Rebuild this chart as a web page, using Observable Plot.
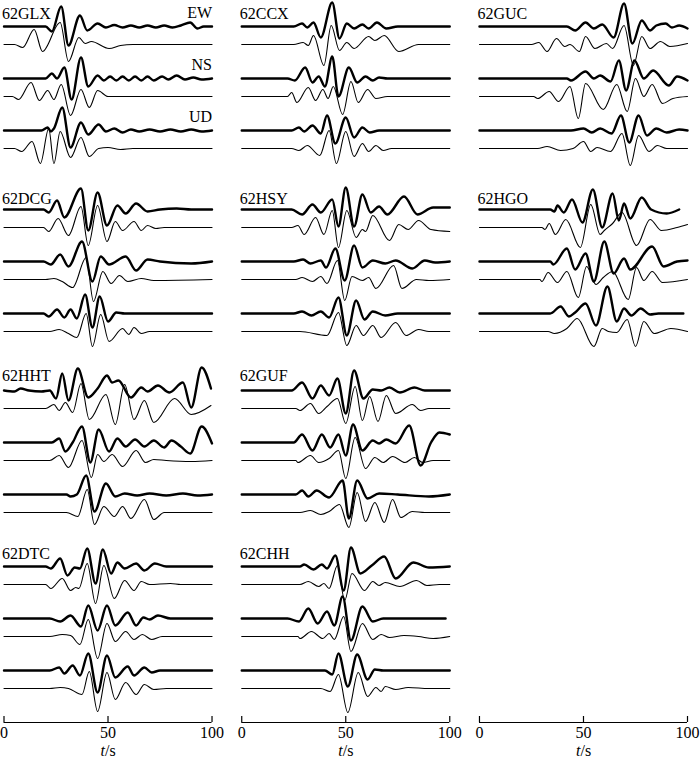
<!DOCTYPE html>
<html><head><meta charset="utf-8">
<script src="https://cdn.jsdelivr.net/npm/d3@7"></script>
<script src="https://cdn.jsdelivr.net/npm/@observablehq/plot@0.6"></script>
<style>html,body{margin:0;padding:0;background:#fff}</style>
</head><body><div id="chart"></div>
<script>
// ---- categories ----
const stations = ["62GLX","62CCX","62GUC","62DCG","62HSY","62HGO","62HHT","62GUF","62DTC","62CHH"];
const stationCol = [0,1,2,0,1,2,0,1,0,1];
const stationRow = [0,0,0,1,1,1,2,2,3,3];
const components = ["EW","NS","UD"];
const tickValues = [0,50,100];

// ---- waveforms: flat pairs [t (s), amplitude], obs = thick, syn = thin ----
const GLX_EW_obs=[0,0,20,0,23,-5,27.5,20,31,-19,36.5,11,40,-4,45,3,49,-1,53,1.5,57,-1,61,1,65,-1,69,1,73,-1,77,1,81,-1,85,1,89.5,4,93,-2,96,0,100,0];
const GLX_EW_syn=[0,0,5,0,9,-3,14.5,15,18.5,-7,27,22,31,-17,36,7,39,1,42,3,50.5,-4,56,-1,62,0,100,0];
const GLX_NS_obs=[0,0,20,0,23,5,25.5,0,29,11,32.5,-21,37,21,40.5,-8,45,3,48,-2,51,2,54,-2,57,2,60,-2,63,2,66,-2,69,2,72,-2,76,2,79,-1,83,3,87,-1,91,1,95,-1,100,0];
const GLX_NS_syn=[0,0,4,0,7,-3,13,14,17,-4,21,6,24,-3,27.5,12,32,-19,37,7,41,-11,45,6,50,0,100,0];
const GLX_UD_obs=[0,0,18,0,21,3,22.5,-1,24,2,28,23,32,-17,37,8,40.5,-4,45.5,6,49,-1,53,2,57,-2,61,1,65,-1,70,1,75,-1,80,1,85,-1,90,1,95,-1,100,0];
const GLX_UD_syn=[0,0,5,0,8.5,-3,13.5,7,17.5,-15,21.5,20,24,-15,27,17,32,-9,37,11,41,-8,45.5,0,50,1,56,-1,62,0,100,0];

const DCG_EW_obs=[0,0,19,0,21.5,-3,25.5,9,29,-8,37,21,40.5,-21,45,17,49.5,-16,54.5,4,58.5,-4,63.5,6,69,-2,75,0,83,1,90,0,100,0];
const DCG_EW_syn=[0,0,19,0,21.5,-4,26,9,31,-8,37,21,40.5,-18,45,22,49.5,-14,53.5,6,57,-3,62.5,6,66,-3,69,2,73,-1,77,0,100,0];
const DCG_NS_obs=[0,0,19,0,22.5,-3,27,7,31,-5,37.5,20,42.5,-20,46.5,5,50.5,-3,58.5,5,63.5,-9,69,2,75,0,90,-2,100,0];
const DCG_NS_syn=[0,0,20,0,24,1,28,-2,33,-8,39.5,22,43,-22,47.5,8,51.5,-4,55.5,4,59.5,-2,66,1,72,-1,100,0];
const DCG_UD_obs=[0,0,19,0,21.5,-3,25.5,4,29,-4,32,4,35,-5,39,19,42.5,-14,46,17,50,-8,54,1,58,0,100,0];
const DCG_UD_syn=[0,0,22,0,26.5,2,31,-2,35,-6,39.5,18,42.5,-15,46.5,17,50.5,-10,57,3,60,-3,62.5,4,66,-2,70,0,100,0];

const HHT_EW_obs=[0,0,5,-1,8,2,12,0,18,-1,22,0,25,-8,28,17,31,-10,35.5,22,40.5,-7,45,2,49.5,15,52,8,55,10,61,-7,66,3,69,-1,74,5,79.5,-2,86,8,90,-17,95,23,99.5,2];
const HHT_EW_syn=[0,0,20,0,24,4,26.5,-2,29.5,6,33,-4,37,25,41,-11,49,14,53.5,-16,58,24,62.5,-11,67.5,8,72,-14,82,10,90,-6,99.5,3];
const HHT_NS_obs=[0,0,23,0,26.5,4,29.5,-9,33,0,37.5,16,41.5,-20,45.5,13,50.5,-9,54.5,4,58.5,-4,63,3,67.5,-4,72,2,77,-5,80.5,2,85,-4,89.5,-11,95,16,100,-1];
const HHT_NS_syn=[0,0,22,0,26.5,5,31,-7,37.5,20,42,-17,45,6,48,-1,52,6,57,-6,63.5,10,68,-2,72,1,78,0,90,-1,100,0];
const HHT_UD_obs=[0,0,30,0,32,-2,35,0,39.5,19,43.5,-17,49,11,53.5,-2,58,1,64,-1,70,1,78,-1,86,1,93,-1,100,0];
const HHT_UD_syn=[0,0,30,0,35.5,-4,40,23,43.5,-12,48,6,53,-4,57,6,61,-6,67.5,13,72,-7,77,0,100,0];

const DTC_EW_obs=[0,0,20,0,22.5,-2,27,8,30.5,-9,34,-1,36.5,-2,40,18,44,-17,47.5,17,51.5,-7,54.5,4,58,-2,63.5,3,67.5,-4,72.5,3,78,0,100,0];
const DTC_EW_syn=[0,0,20,0,22.5,-4,28,6,32,-6,34.5,-3,36,-4,40,21,44,-19,48,19,53,-14,58,4,62.5,-6,66,3,70,0,80,1,85,0,100,0];
const DTC_NS_obs=[0,0,22,0,27,-3,32,3,37,-8,40.5,13,45,-12,49.5,13,53.5,-7,59.5,6,63.5,-7,67,1,70,-1,74,3,80,0,100,0];
const DTC_NS_syn=[0,0,22,0,28,2,32,1,36.5,-8,40.5,17,45,-22,49.5,13,53.5,-5,58.5,5,62.5,-3,66.5,2,71,-3,76,0,90,0,100,0];
const DTC_UD_obs=[0,0,22,0,26.5,3,29,-3,33,5,36.5,-5,40.5,17,45,-22,49.5,15,53.5,-7,59.5,4,62.5,-5,67.5,3,71,-2,75,0,100,0];
const DTC_UD_syn=[0,0,22,0,27,1,31,0,37.5,-6,41,17,45,-23,49.5,16,53.5,-11,58.5,6,63.5,-6,67.5,4,72,-1,78,0,100,0];

const CCX_EW_obs=[0,0,25,0,29,3,31.5,-1,34.5,4,38,-11,43.5,24,47,-12,50.5,3,54,-2,58,2,61,-2,65,4,69.5,-2,75,0,100,0];
const CCX_EW_syn=[0,0,25,0,29.5,2,32,-1,34.5,9,39.5,-21,43,19,47,-6,50.5,2,54,-4,61,8,64,4,68.5,9,75.5,-7,85,0,100,0];
const CCX_NS_obs=[0,0,22,0,25.5,-2,30.5,11,34,-4,37,2,40,-8,43.5,22,46.5,-18,51.5,11,55.5,-4,59.5,2,63,-2,66,1,70,0,100,0];
const CCX_NS_syn=[0,0,22,0,24,4,26.5,-6,32,9,35.5,-4,39,7,41.5,-2,44,10,48.5,-18,52.5,15,56,-6,60.5,7,64.5,-2,70,0,100,0];
const CCX_UD_obs=[0,0,24,0,27.5,3,30,-1,34,5,38,-3,41,15,45,-13,50,13,54,-7,58,3,61.5,-2,66,0,100,0];
const CCX_UD_syn=[0,0,24,0,27.5,-2,31.5,3,37.5,-7,42,18,45.5,-15,50,17,54,-8,58,5,61,-3,64.5,3,68,-2,72,0,100,0];

const HSY_EW_obs=[0,0,24,0,29,-5,34,5,38,-3,43.5,10,46.5,-17,50,22,54,-17,58,15,62,-3,66,3,70,-5,78,13,84.5,-5,92,2,100,2];
const HSY_EW_syn=[0,0,24,0,27,2,30,-7,35.5,10,39.5,-7,43.5,17,46.5,-20,50.5,17,55,-10,58,-2,59.5,-4,63,12,71,-13,75.5,3,80,-2,85,7,91,-2,100,-4];
const HSY_NS_obs=[0,0,25,0,29.5,2,33,-2,38,1,40.5,-6,45,13,49.5,-19,54,16,58,-6,63,1,69,-2,74,1,82,-7,88,1,93,-1,100,0];
const HSY_NS_syn=[0,0,26,0,29,2,34,-2,38,3,41,-4,46,19,49.5,-21,53,3,58,-1,61,2,64.5,-9,73,14,77,-9,84,0,90,-1,100,0];
const HSY_UD_obs=[0,0,25,0,29,2,33.5,-2,38,2,42,-4,46.5,16,50.5,-22,55,13,59,-6,63,2,69,-2,75,0,100,0];
const HSY_UD_syn=[0,0,28,0,41,-4,46.5,19,50.5,-14,55,6,58.5,-4,63,6,67,-6,74,9,79,-4,85,2,90,0,100,0];

const GUF_EW_obs=[0,0,24,0,29,8,34,-8,38,5,42,-5,46,12,50,-23,54,20,58.5,-8,63,1,67,0,71,3,76,-2,83,3,88,0,100,0];
const GUF_EW_syn=[0,0,26,0,28,-2,33,5,37,-5,41,2,46,10,50,-15,54.5,22,58,-12,61.5,12,65.5,-13,69.5,13,74,-5,82,4,86,-2,90,0,100,0];
const GUF_NS_obs=[0,0,25,0,29,8,34,-8,38.5,8,42.5,-5,46.5,8,50,-13,53.5,18,58,-8,63,2,66,-1,69.5,3,74,-1,80.5,17,86,-23,91,0,95,10,100,8];
const GUF_NS_syn=[0,0,26,0,27,-2,33,5,37,-2,42,2,46.5,10,50,-18,54.5,23,59.5,-8,64,3,68,-2,72.5,4,78.5,-2,83,3,87,-2,92,0,100,0];
const GUF_UD_obs=[0,0,26,0,29,4,32,-2,36,4,42,-3,48.5,14,51.5,-24,55.5,14,60.5,-4,66,1,75,0,90,-2,100,0];
const GUF_UD_syn=[0,0,28,0,33,2,38,-2,42,1,47,8,51.5,-15,55.5,20,59.5,-9,64,10,68.5,-10,72.5,13,76.5,-5,82,1,88,0,100,0];

const CHH_EW_obs=[0,0,28,0,30,2,34.5,-3,38.5,2,41,-2,45,11,49,-24,52.5,19,57,-7,62.5,1,68.5,10,74,-12,82.5,4,90,-1,100,0];
const CHH_EW_syn=[0,0,28,0,32,3,37,-2,39.5,1,42,-4,46,19,49.5,-16,53,11,59,-6,63,3,66,-1,69,2,76,-2,84,4,89,-1,95,0,100,0];
const CHH_NS_obs=[0,0,22,0,27.5,-3,32,10,36.5,-5,41,7,44.5,-7,48.5,22,52.5,-22,58,12,63,-3,68,0,98,0];
const CHH_NS_syn=[0,0,27,0,28,-2,33.5,5,39,-2,42,3,44.5,-3,49,20,52.5,-15,58,13,63,-3,67,2,71,-1,78,1,85,0,92,-2,100,0];
const CHH_UD_obs=[0,0,40,0,43.5,-4,46.5,17,51,-16,55.5,16,60.5,-9,64,1,68,0,100,0];
const CHH_UD_syn=[0,0,38,0,42.5,-3,46.5,14,51,-24,56,16,60.5,-8,64.5,1,67,-3,69,2,74,-1,80,1,90,0,100,0];

const GUC_EW_obs=[0,0,42,0,46,-4,51,4,55,-2,59,2,64.5,-11,69.5,23,73.5,-17,78,6,82,-4,85,1,89.5,3,92.5,-1,96,1,100,-2];
const GUC_EW_syn=[0,0,25,0,28.5,2,32.5,-7,37,6,41,-2,43.5,0,48,-7,51,8,55.5,-4,61,1,64,-4,69.5,19,74,-21,78,8,82,-4,87,3,91.5,-2,100,1];
const GUC_NS_obs=[0,0,42,0,44,-2,51,7,55,0,58,3,63,-3,67,18,70.5,-12,74.5,18,79,0,83.5,8,91,-7,95,2,100,-2];
const GUC_NS_syn=[0,0,26,0,28,-2,33.5,5,38,-5,43.5,10,47.5,-22,51,13,59.5,-13,66,12,71,-15,75,18,79,0,83,12,88,-7,93,-2,100,0];
const GUC_UD_obs=[0,0,44,0,50,2,54,-2,58,2,63.5,-3,68,15,72,-12,76.5,15,80.5,-5,85,2,90,-2,96,1,100,0];
const GUC_UD_syn=[0,0,28,0,32.5,2,39,-2,45,0,50,7,53.5,-3,56.5,1,63,-3,68.5,15,72.5,-17,76.5,13,81.5,-3,85.5,3,90,0,100,0];

const HGO_EW_obs=[0,0,34,0,36,-2,37.5,4,40.5,-3,44.5,10,49.5,-13,54.5,20,59,-18,64,16,67,-11,69.5,6,72.5,-9,78,12,82.5,0,90,-4,96,0];
const HGO_EW_syn=[0,0,30,0,31.5,-2,33.5,4,36.5,-7,41.5,8,48.5,-20,53.5,23,58,-7,60,-3,64,4,68.5,15,75.5,-18,82,8,87.5,-3,95,0,100,3];
const HGO_NS_obs=[0,0,34,0,35.5,-3,42,13,46,-8,51,8,55,-20,60,20,64.5,-12,69.5,3,72.5,-8,83,15,88.5,-5,95,0,100,1];
const HGO_NS_syn=[0,0,29,0,30,-2,33,7,37.5,-3,42,8,47.5,-18,51.5,13,56,-5,59.5,2,64,8,71.5,-20,75.5,12,79,-1,83,8,88,-3,100,0];
const HGO_UD_obs=[0,0,34,0,39,7,43,-3,46,1,51,10,56,-12,61.5,27,66,-8,69.5,5,73,-2,77.5,5,82,-1,86,0,98,0];
const HGO_UD_syn=[0,0,33,0,36,-2,42,3,47,13,55,-15,59,3,62,0,66,-1,71,12,75,-15,79,10,84,-2,92,3,100,0];

// table built from the named arrays
const traceSets = {
  "62GLX":[[GLX_EW_obs,GLX_EW_syn],[GLX_NS_obs,GLX_NS_syn],[GLX_UD_obs,GLX_UD_syn]],
  "62CCX":[[CCX_EW_obs,CCX_EW_syn],[CCX_NS_obs,CCX_NS_syn],[CCX_UD_obs,CCX_UD_syn]],
  "62GUC":[[GUC_EW_obs,GUC_EW_syn],[GUC_NS_obs,GUC_NS_syn],[GUC_UD_obs,GUC_UD_syn]],
  "62DCG":[[DCG_EW_obs,DCG_EW_syn],[DCG_NS_obs,DCG_NS_syn],[DCG_UD_obs,DCG_UD_syn]],
  "62HSY":[[HSY_EW_obs,HSY_EW_syn],[HSY_NS_obs,HSY_NS_syn],[HSY_UD_obs,HSY_UD_syn]],
  "62HGO":[[HGO_EW_obs,HGO_EW_syn],[HGO_NS_obs,HGO_NS_syn],[HGO_UD_obs,HGO_UD_syn]],
  "62HHT":[[HHT_EW_obs,HHT_EW_syn],[HHT_NS_obs,HHT_NS_syn],[HHT_UD_obs,HHT_UD_syn]],
  "62GUF":[[GUF_EW_obs,GUF_EW_syn],[GUF_NS_obs,GUF_NS_syn],[GUF_UD_obs,GUF_UD_syn]],
  "62DTC":[[DTC_EW_obs,DTC_EW_syn],[DTC_NS_obs,DTC_NS_syn],[DTC_UD_obs,DTC_UD_syn]],
  "62CHH":[[CHH_EW_obs,CHH_EW_syn],[CHH_NS_obs,CHH_NS_syn],[CHH_UD_obs,CHH_UD_syn]]
};

// ---- layout (vertical trace offsets, in y-scale units) ----
const rowBase = [26, 209, 390, 566];
const labelBase = [18, 203, 380, 558];
const compStep = 52, synStep = 18;
const axisY = 722;

const obsRows = [], synRows = [], stationLabels = [], compLabels = [];
stations.forEach((s, i) => {
  const col = stationCol[i], row = stationRow[i];
  stationLabels.push({col, name: s, y: labelBase[row]});
  traceSets[s].forEach((pair, c) => {
    pair.forEach((arr, k) => {
      const base = rowBase[row] + c * compStep + k * synStep;
      const target = k === 0 ? obsRows : synRows;
      for (let j = 0; j < arr.length; j += 2) {
        target.push({col, t: arr[j], y: base - arr[j + 1], id: `${s}-${c}-${k}`});
      }
    });
  });
});
components.forEach((c, i) => compLabels.push({col: 0, name: c, y: rowBase[0] + i * compStep - 9}));

const chart = Plot.plot({
  width: 700, height: 761,
  marginTop: 0, marginBottom: 761 - axisY, marginLeft: 3.5, marginRight: 13,
  x: {domain: [0, 100]},
  y: {domain: [axisY, 0], axis: null},
  fx: {domain: [0, 1, 2], paddingInner: 0.125, paddingOuter: 0, round: false, axis: null},
  style: {fontFamily: "'Liberation Serif', 'Times New Roman', serif", fontSize: "16px", color: "#000", background: "#fff", overflow: "visible"},
  marks: [
    Plot.line(synRows, {x: "t", y: "y", z: "id", fx: "col", curve: "monotone-x", stroke: "#000", strokeWidth: 1.1}),
    Plot.line(obsRows, {x: "t", y: "y", z: "id", fx: "col", curve: "monotone-x", stroke: "#000", strokeWidth: 2.4}),
    Plot.ruleY([axisY], {stroke: "#000", strokeWidth: 1.2}),
    Plot.ruleX(tickValues, {y1: axisY - 6, y2: axisY, stroke: "#000", strokeWidth: 1.2}),
    Plot.axisX({ticks: tickValues, tickSize: 0, tickPadding: 4.6, label: null, fontSize: 16, tickFormat: d => String(d)}),
    Plot.text(stationLabels, {x: 0, y: "y", fx: "col", text: "name", textAnchor: "start", lineAnchor: "bottom", dx: -2, fontSize: 16}),
    Plot.text(compLabels, {x: 100, y: "y", fx: "col", text: "name", textAnchor: "end", lineAnchor: "bottom", fontSize: 16}),
    Plot.text(["t"], {x: 50, y: 750, text: d => d, textAnchor: "end", dx: -3, fontStyle: "italic", fontSize: 16}),
    Plot.text(["/s"], {x: 50, y: 750, text: d => d, textAnchor: "start", dx: -3, fontSize: 16})
  ]
});
document.getElementById("chart").append(chart);
</script>
</body></html>
